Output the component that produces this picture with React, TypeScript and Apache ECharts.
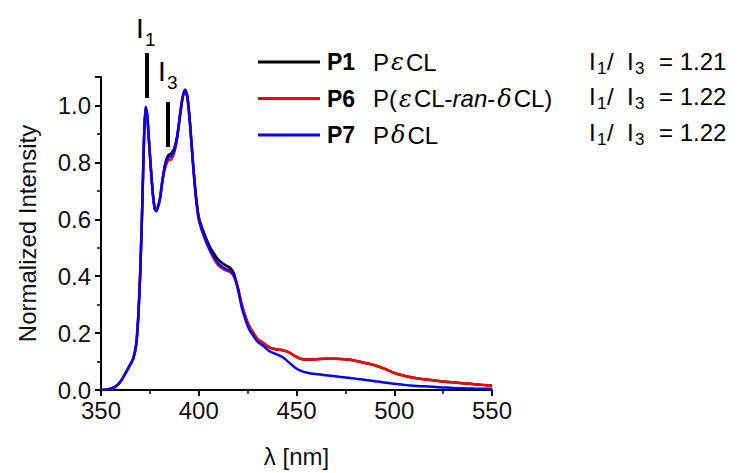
import { useEffect, useRef } from 'react';
import * as echarts from 'echarts';

const wavelengths = [350, 354, 357, 360, 363, 365, 366.5, 368, 369, 370, 371, 372, 372.8, 373.6, 374.5, 375.5, 376.5, 377.5, 378.3, 379.2, 380.2, 381.5, 383, 384.5, 386, 387.5, 389, 390.5, 391.8, 393, 394.2, 395.5, 397, 398.5, 400, 402, 404, 406, 408, 410, 412, 414, 416, 418, 420, 422, 424, 426, 428, 430, 433, 436, 440, 443, 446, 449, 452, 456, 460, 465, 470, 475, 480, 485, 490, 495, 500, 505, 510, 515, 520, 525, 530, 535, 540, 545, 550];

const p7 = [0.0, 0.003, 0.01, 0.03, 0.065, 0.09, 0.11, 0.16, 0.25, 0.40, 0.62, 0.88, 0.995, 0.97, 0.88, 0.78, 0.69, 0.64, 0.63, 0.645, 0.675, 0.74, 0.795, 0.818, 0.822, 0.84, 0.89, 0.97, 1.03, 1.055, 1.03, 0.94, 0.80, 0.68, 0.60, 0.555, 0.52, 0.49, 0.465, 0.445, 0.433, 0.425, 0.42, 0.40, 0.355, 0.29, 0.245, 0.21, 0.19, 0.17, 0.155, 0.137, 0.125, 0.115, 0.098, 0.08, 0.068, 0.06, 0.056, 0.052, 0.048, 0.044, 0.04, 0.036, 0.031, 0.026, 0.022, 0.018, 0.015, 0.013, 0.011, 0.009, 0.007, 0.006, 0.005, 0.004, 0.004];

const p6 = [0.0, 0.003, 0.01, 0.03, 0.065, 0.09, 0.11, 0.16, 0.25, 0.40, 0.62, 0.88, 0.99, 0.965, 0.875, 0.78, 0.69, 0.64, 0.632, 0.645, 0.672, 0.735, 0.785, 0.808, 0.81, 0.835, 0.885, 0.965, 1.03, 1.05, 1.025, 0.935, 0.80, 0.68, 0.60, 0.552, 0.515, 0.485, 0.458, 0.438, 0.428, 0.42, 0.415, 0.40, 0.36, 0.30, 0.255, 0.222, 0.2, 0.18, 0.165, 0.15, 0.142, 0.14, 0.133, 0.12, 0.11, 0.107, 0.108, 0.11, 0.11, 0.108, 0.103, 0.095, 0.087, 0.075, 0.06, 0.05, 0.043, 0.038, 0.034, 0.03, 0.027, 0.024, 0.021, 0.018, 0.015];

const p1 = [0.0, 0.003, 0.01, 0.03, 0.065, 0.09, 0.11, 0.16, 0.25, 0.40, 0.62, 0.88, 0.995, 0.97, 0.88, 0.78, 0.69, 0.635, 0.628, 0.645, 0.675, 0.742, 0.80, 0.826, 0.832, 0.85, 0.895, 0.972, 1.03, 1.055, 1.03, 0.94, 0.805, 0.69, 0.61, 0.565, 0.53, 0.5, 0.477, 0.458, 0.446, 0.437, 0.43, 0.41, 0.36, 0.30, 0.255, 0.222, 0.2, 0.18, 0.165, 0.15, 0.142, 0.14, 0.133, 0.12, 0.11, 0.107, 0.108, 0.11, 0.11, 0.108, 0.103, 0.095, 0.087, 0.075, 0.06, 0.05, 0.043, 0.038, 0.034, 0.03, 0.027, 0.024, 0.021, 0.018, 0.015];

const seriesNames = ['P1', 'P6', 'P7'];
const seriesColors = ['#000000', '#ff0000', '#0000ff'];
const seriesValues = [p1, p6, p7];
const legendLabels = [
  '{b|P1}{n|P}{g|ε}{n|CL}',
  '{b|P6}{n|P(}{g|ε}{n|CL-}{i|ran}{n|-}{g|δ}{n|CL)}',
  '{b|P7}{n|P}{g|δ}{n|CL}',
];
const ratios = ['1.21', '1.22', '1.22'];

const FONT = '"Liberation Sans", Arial, sans-serif';

function ratioRow(y: number, value: string) {
  const base = { fontFamily: FONT, fill: '#000', verticalAlign: 'middle' as const };
  return [
    { type: 'text', x: 589, y, style: { ...base, text: 'I', fontSize: 24 } },
    { type: 'text', x: 597, y: y + 7, style: { ...base, text: '1', fontSize: 17 } },
    { type: 'text', x: 607, y, style: { ...base, text: '/', fontSize: 24 } },
    { type: 'text', x: 627, y, style: { ...base, text: 'I', fontSize: 24 } },
    { type: 'text', x: 635, y: y + 7, style: { ...base, text: '3', fontSize: 17 } },
    { type: 'text', x: 659, y, style: { ...base, text: '= ' + value, fontSize: 24 } },
  ];
}

export default function App() {
  const ref = useRef<HTMLDivElement>(null);
  useEffect(() => {
    if (!ref.current) return;
    const chart = echarts.init(ref.current, undefined, { renderer: 'svg' });
    const axisFont = { fontFamily: FONT, fontSize: 24, color: '#111' };
    const rowY = [61, 96.5, 132];
    chart.setOption({
      animation: false,
      backgroundColor: '#fff',
      grid: { left: 101, top: 77, width: 391, height: 314, containLabel: false },
      xAxis: {
        type: 'value',
        min: 350,
        max: 550,
        interval: 50,
        name: 'λ [nm]',
        nameLocation: 'middle',
        nameGap: 54,
        nameTextStyle: axisFont,
        axisLine: { show: true, lineStyle: { color: '#000', width: 2 } },
        axisTick: { show: true, inside: false, length: 6, lineStyle: { color: '#000', width: 2 } },
        minorTick: { show: true, splitNumber: 2, length: 4, lineStyle: { color: '#000', width: 1.5 } },
        splitLine: { show: false },
        axisLabel: { ...axisFont, margin: 8 },
      },
      yAxis: {
        type: 'value',
        min: 0,
        max: 1.1,
        interval: 0.2,
        name: 'Normalized Intensity',
        nameLocation: 'middle',
        nameGap: 62,
        nameTextStyle: axisFont,
        axisLine: { show: true, lineStyle: { color: '#000', width: 2 } },
        axisTick: { show: true, inside: false, length: 6, lineStyle: { color: '#000', width: 2 } },
        minorTick: { show: true, splitNumber: 2, length: 4, lineStyle: { color: '#000', width: 1.5 } },
        splitLine: { show: false },
        axisLabel: { ...axisFont, margin: 10, showMaxLabel: false, formatter: (v: number) => v.toFixed(1) },
      },
      legend: {
        orient: 'vertical',
        left: 258,
        top: 50,
        padding: 0,
        itemWidth: 62,
        itemHeight: 3,
        itemGap: 12.5,
        icon: 'rect',
        data: seriesNames,
        formatter: (name: string) => legendLabels[seriesNames.indexOf(name)],
        textStyle: {
          fontFamily: FONT,
          fontSize: 23,
          color: '#000',
          lineHeight: 23,
          rich: {
            b: { fontFamily: FONT, fontSize: 23, fontWeight: 'bold', color: '#000', width: 46, padding: [0, 0, 0, 2], lineHeight: 23 },
            n: { fontFamily: FONT, fontSize: 24, color: '#000', lineHeight: 23 },
            i: { fontFamily: FONT, fontSize: 24, fontStyle: 'italic', color: '#000', lineHeight: 23 },
            g: { fontFamily: '"DejaVu Serif", serif', fontSize: 24, fontStyle: 'italic', color: '#000', lineHeight: 23, padding: [0, 2, 0, 2] },
          },
        },
      },
      graphic: [
        { type: 'text', x: 136, y: 28, style: { text: 'I', fontSize: 28, fontFamily: FONT, fill: '#000', verticalAlign: 'middle' } },
        { type: 'text', x: 145, y: 39, style: { text: '1', fontSize: 19, fontFamily: FONT, fill: '#000', verticalAlign: 'middle' } },
        { type: 'rect', shape: { x: 145, y: 53, width: 4, height: 45 }, style: { fill: '#000' } },
        { type: 'text', x: 158, y: 71, style: { text: 'I', fontSize: 28, fontFamily: FONT, fill: '#000', verticalAlign: 'middle' } },
        { type: 'text', x: 167, y: 82, style: { text: '3', fontSize: 19, fontFamily: FONT, fill: '#000', verticalAlign: 'middle' } },
        { type: 'rect', shape: { x: 166, y: 102, width: 4, height: 45 }, style: { fill: '#000' } },
        ...rowY.flatMap((y, i) => ratioRow(y, ratios[i])),
      ],
      series: seriesNames.map((name, k) => ({
        name,
        type: 'line',
        symbol: 'none',
        showSymbol: false,
        smooth: 0.25,
        color: seriesColors[k],
        lineStyle: { color: seriesColors[k], width: 2.5 },
        data: wavelengths.map((w, j) => [w, seriesValues[k][j]]),
        z: 2 + k,
      })),
    });
    return () => chart.dispose();
  }, []);
  return <div ref={ref} style={{ position: 'fixed', left: 0, top: 0, width: 739, height: 473 }} />;
}
